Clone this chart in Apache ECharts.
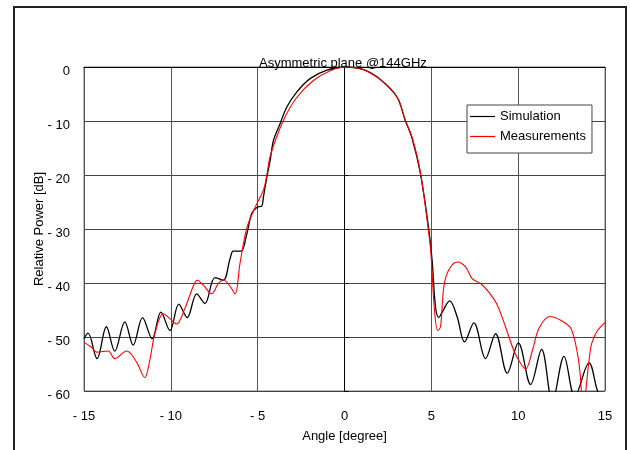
<!DOCTYPE html>
<html>
<head>
<meta charset="utf-8">
<script src="https://cdn.jsdelivr.net/npm/echarts@6/dist/echarts.min.js"></script>
<style>
  html, body { margin: 0; padding: 0; background: #fff; }
  #main { width: 630px; height: 450px; }
</style>
</head>
<body>
<div id="main"></div>
<script>
// values
var xTicks = [-15, -10, -5, 0, 5, 10, 15];
var yTicks = [-60, -50, -40, -30, -20, -10, 0];

var simAngle = [-15, -14.77, -14.25, -13.71, -13.23, -12.65, -12.17, -11.63, -11.08, -10.57,
  -10.05, -9.54, -9.06, -8.51, -8.04, -7.46, -6.98, -6.59, -6.4, -5.96,
  -5.63, -5.34, -5.05, -4.76, -4.67, -4.47, -4.28, -4.09, -3.71, -3.32,
  -2.74, -1.98, -1.01, 0.04, 1.1, 2.06, 3.03, 3.5, 3.89, 4.37,
  4.85, 5.05, 5.24, 5.43, 5.62, 6.06, 6.49, 6.91, 7.45, 8.12,
  8.7, 9.37, 10.01, 10.72, 11.35, 11.97, 12.64, 13.26, 14.08, 14.57, 15];
var simPower = [-50.3, -49.3, -54, -48.1, -52.6, -47.2, -51.5, -46.4, -50.3, -45.4,
  -48.8, -43.9, -46.4, -42.0, -43.8, -39.0, -39.5, -35.5, -34.1, -34.1,
  -31.0, -27.1, -26.0, -25.7, -24.1, -20.4, -17.3, -13.6, -10.5, -7.4,
  -4.6, -2.15, -0.6, 0, -0.5, -2.3, -5.6, -9.9, -13.2, -19.7,
  -30, -36, -44.4, -46.4, -45.4, -43.3, -46.3, -50.9, -47.4, -54,
  -49.4, -56.7, -51.1, -58.8, -52.3, -62, -53.6, -61, -54.8, -60, -63];

var measAngle = [-15, -14.57, -14.28, -13.61, -13.23, -12.55, -11.98, -11.5, -11.21, -10.92,
  -10.44, -10.05, -9.67, -9.19, -8.71, -8.48, -8.13, -7.65, -7.27, -6.98,
  -6.59, -6.3, -6.02, -5.63, -5.15, -4.67, -4.47, -4.28, -3.52, -2.74,
  -1.79, -0.82, 0.04, 1.1, 2.25, 3.03, 3.5, 3.89, 4.37, 4.9,
  4.99, 5.18, 5.37, 5.53, 5.72, 6.0, 6.49, 6.97, 7.35, 7.83,
  8.31, 8.8, 9.27, 9.75, 10.14, 10.43, 10.82, 11.2, 11.83, 12.45,
  13.03, 13.41, 13.6, 13.75, 13.89, 14.18, 14.37, 14.57, 14.76, 15];
var measPower = [-51, -51.9, -52.8, -52.6, -54, -52.6, -54.6, -57.5, -54.3, -49.4,
  -45.7, -46.6, -47.6, -44.7, -40.6, -39.5, -40.4, -42, -40.1, -39.4,
  -40.6, -42, -36.4, -29.9, -26, -22.8, -20, -16.5, -9.9, -5.6,
  -2.5, -0.7, 0, -0.5, -2.8, -5.6, -9.9, -13, -19.5, -32,
  -35.2, -45, -48.8, -48.1, -40.7, -37.6, -36.1, -37, -39.2, -40.1,
  -41.7, -44.1, -48.1, -52.5, -54.9, -55.9, -52.5, -48.4, -46.2, -46.9,
  -48.4, -53, -58, -66, -60.2, -51.9, -50, -48.8, -48.1, -47.3];

var pairs = function (xs, ys) {
  var out = [];
  for (var i = 0; i < xs.length; i++) {
    out.push([xs[i], ys[i]]);
  }
  return out;
};

var minusFmt = function (v) {
  return v < 0 ? '- ' + Math.abs(v) : String(v);
};

var font = 'Liberation Sans';

var option = {
  animation: false,
  backgroundColor: '#fff',
  title: {
    text: 'Asymmetric plane @144GHz',
    left: 259,
    top: 57,
    padding: 0,
    textStyle: { fontFamily: font, fontSize: 13, fontWeight: 'normal', color: '#000' }
  },
  legend: {
    orient: 'vertical',
    left: 467,
    top: 105,
    padding: [5, 6, 10, 3],
    itemGap: 7,
    itemWidth: 25,
    itemHeight: 1.2,
    icon: 'rect',
    backgroundColor: '#fff',
    borderColor: '#444',
    borderWidth: 1,
    borderRadius: 0,
    textStyle: { fontFamily: font, fontSize: 13, color: '#000' },
    data: ['Simulation', 'Measurements']
  },
  grid: {
    left: 84,
    right: 25,
    top: 67,
    bottom: 59,
    containLabel: false,
    outerBoundsMode: 'none',
    show: true,
    borderColor: '#777',
    borderWidth: 1
  },
  xAxis: {
    type: 'value',
    min: xTicks[0],
    max: xTicks[xTicks.length - 1],
    interval: 5,
    name: 'Angle [degree]',
    nameLocation: 'middle',
    nameGap: 39,
    nameMoveOverlap: false,
    nameTextStyle: { fontFamily: font, fontSize: 13, color: '#000' },
    axisLine: { show: true, lineStyle: { color: '#000', width: 1 } },
    axisTick: { show: false },
    axisLabel: { fontFamily: font, fontSize: 13, color: '#000', margin: 19, formatter: minusFmt },
    splitLine: { show: true, lineStyle: { color: '#555', width: 1 } }
  },
  yAxis: {
    type: 'value',
    min: yTicks[0],
    max: yTicks[yTicks.length - 1],
    interval: 10,
    name: 'Relative Power [dB]',
    nameLocation: 'middle',
    nameGap: 38,
    nameMoveOverlap: false,
    nameTextStyle: { fontFamily: font, fontSize: 13, color: '#000' },
    axisLine: { show: true, lineStyle: { color: '#000', width: 1 } },
    axisTick: { show: true, inside: true, length: 4, lineStyle: { color: '#000' } },
    axisLabel: { fontFamily: font, fontSize: 13, color: '#000', margin: 14,
      verticalAlign: 'top', lineHeight: 8, formatter: minusFmt },
    splitLine: { show: true, lineStyle: { color: '#444', width: 1 } }
  },
  graphic: [{
    type: 'rect',
    shape: { x: 14, y: 7, width: 612, height: 460 },
    style: { fill: 'none', stroke: '#222', lineWidth: 2 },
    silent: true,
    z: 0
  }],
  series: [{
    name: 'Simulation',
    type: 'line',
    data: pairs(simAngle, simPower),
    smooth: 0.35,
    symbol: 'none',
    clip: true,
    lineStyle: { color: '#000', width: 1.3 },
    itemStyle: { color: '#000' },
    z: 3
  }, {
    name: 'Measurements',
    type: 'line',
    data: pairs(measAngle, measPower),
    smooth: 0.35,
    symbol: 'none',
    clip: true,
    lineStyle: { color: '#ff0000', width: 1.1 },
    itemStyle: { color: '#ff0000' },
    z: 4
  }]
};

echarts.init(document.getElementById('main')).setOption(option);
</script>
</body>
</html>
